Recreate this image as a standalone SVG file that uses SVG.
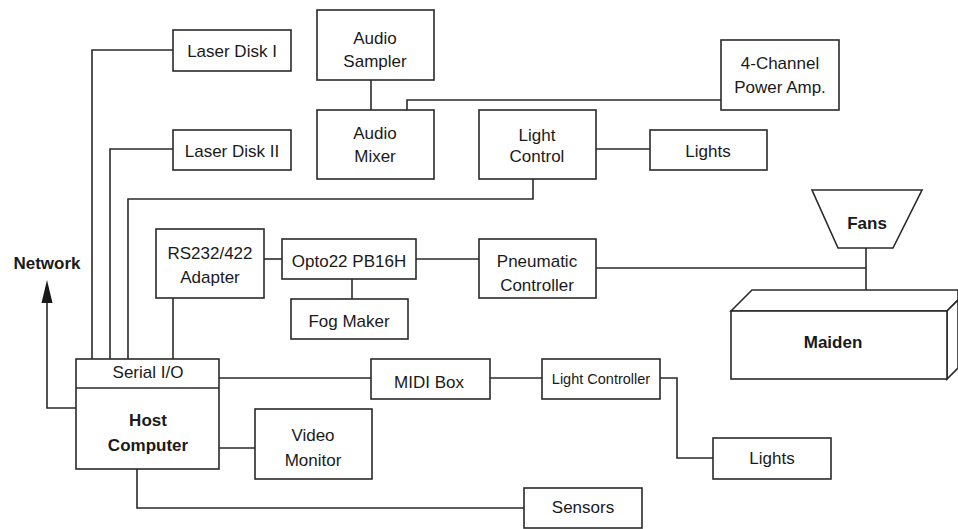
<svg xmlns="http://www.w3.org/2000/svg" width="958" height="529" viewBox="0 0 958 529">
<style>
.box{fill:#fff;stroke:#2a2a2a;stroke-width:1.6}
.ln{fill:none;stroke:#2a2a2a;stroke-width:1.6}
.head{fill:#1a1a1a;stroke:none}
text{font-family:"Liberation Sans",Arial,sans-serif;font-size:17px;fill:#1a1a1a;text-anchor:middle}
.b{font-weight:bold}
.sm{font-size:14.5px}
</style>
<rect width="958" height="529" fill="#fff"/>
<g id="connectors">
<polyline class="ln" points="173,50 92,50 92,359"/>
<polyline class="ln" points="173,149 110,149 110,359"/>
<polyline class="ln" points="533,179 533,199 128,199 128,359"/>
<line class="ln" x1="173" y1="298" x2="173" y2="359"/>
<line class="ln" x1="371" y1="80" x2="371" y2="110"/>
<polyline class="ln" points="721,100 407,100 407,110"/>
<line class="ln" x1="596" y1="149" x2="650" y2="149"/>
<line class="ln" x1="264" y1="259" x2="282" y2="259"/>
<line class="ln" x1="416" y1="259" x2="479" y2="259"/>
<line class="ln" x1="352" y1="279" x2="352" y2="299"/>
<polyline class="ln" points="596,268 866,268"/>
<line class="ln" x1="866" y1="248" x2="866" y2="290"/>
<polyline class="ln" points="76,408 47,408 47,300"/>
<polygon class="head" points="47,280 52.5,303 41.5,303"/>
<line class="ln" x1="219" y1="378" x2="371" y2="378"/>
<line class="ln" x1="490" y1="378" x2="542" y2="378"/>
<polyline class="ln" points="660,378 677,378 677,458 713,458"/>
<line class="ln" x1="219" y1="448" x2="255" y2="448"/>
<polyline class="ln" points="137,469 137,508 524,508"/>
</g>
<g id="laser-disk-1"><rect class="box" x="173" y="30" width="118" height="41"/><text x="232" y="57">Laser Disk I</text></g>
<g id="laser-disk-2"><rect class="box" x="173" y="130" width="118" height="40"/><text x="232" y="157">Laser Disk II</text></g>
<g id="audio-sampler"><rect class="box" x="317" y="10" width="117" height="70"/><text x="375" y="44">Audio</text><text x="375" y="67">Sampler</text></g>
<g id="audio-mixer"><rect class="box" x="317" y="110" width="117" height="69"/><text x="375" y="139">Audio</text><text x="375" y="162">Mixer</text></g>
<g id="light-control"><rect class="box" x="479" y="110" width="117" height="69"/><text x="537" y="141">Light</text><text x="537" y="162">Control</text></g>
<g id="lights-upper"><rect class="box" x="650" y="130" width="117" height="40"/><text x="708" y="157">Lights</text></g>
<g id="power-amp"><rect class="box" x="721" y="40" width="118" height="70"/><text x="780" y="69">4-Channel</text><text x="780" y="93">Power Amp.</text></g>
<g id="rs232"><rect class="box" x="156" y="229" width="108" height="69"/><text x="210" y="259">RS232/422</text><text x="210" y="283">Adapter</text></g>
<g id="opto22"><rect class="box" x="282" y="239" width="134" height="40"/><text x="349" y="267">Opto22 PB16H</text></g>
<g id="fog-maker"><rect class="box" x="291" y="299" width="117" height="40"/><text x="349" y="327">Fog Maker</text></g>
<g id="pneumatic"><rect class="box" x="479" y="239" width="117" height="59"/><text x="537" y="267">Pneumatic</text><text x="537" y="291">Controller</text></g>
<g id="fans"><polygon class="box" points="812,190 922,190 893,248 838,248"/><text class="b" x="867" y="229">Fans</text></g>
<g id="maiden">
<polygon class="box" points="731,311 752,290 958,290 958,300 947,311"/>
<polygon class="box" points="947,311 958,300 958,368 947,379"/>
<rect class="box" x="731" y="311" width="216" height="68"/>
<text class="b" x="833" y="348">Maiden</text>
</g>
<g id="network"><text class="b" x="47" y="269">Network</text></g>
<g id="host-computer"><rect class="box" x="76" y="359" width="143" height="110"/><line class="ln" x1="76" y1="388" x2="219" y2="388"/><text x="148" y="378">Serial I/O</text><text class="b" x="148" y="426">Host</text><text class="b" x="148" y="451">Computer</text></g>
<g id="midi-box"><rect class="box" x="371" y="359" width="119" height="40"/><text x="429" y="388">MIDI Box</text></g>
<g id="light-controller"><rect class="box" x="542" y="359" width="118" height="40"/><text class="sm" x="601" y="384">Light Controller</text></g>
<g id="lights-lower"><rect class="box" x="713" y="438" width="118" height="41"/><text x="772" y="464">Lights</text></g>
<g id="video-monitor"><rect class="box" x="255" y="409" width="117" height="70"/><text x="313" y="441">Video</text><text x="313" y="466">Monitor</text></g>
<g id="sensors"><rect class="box" x="524" y="488" width="118" height="40"/><text x="583" y="513">Sensors</text></g>
</svg>
